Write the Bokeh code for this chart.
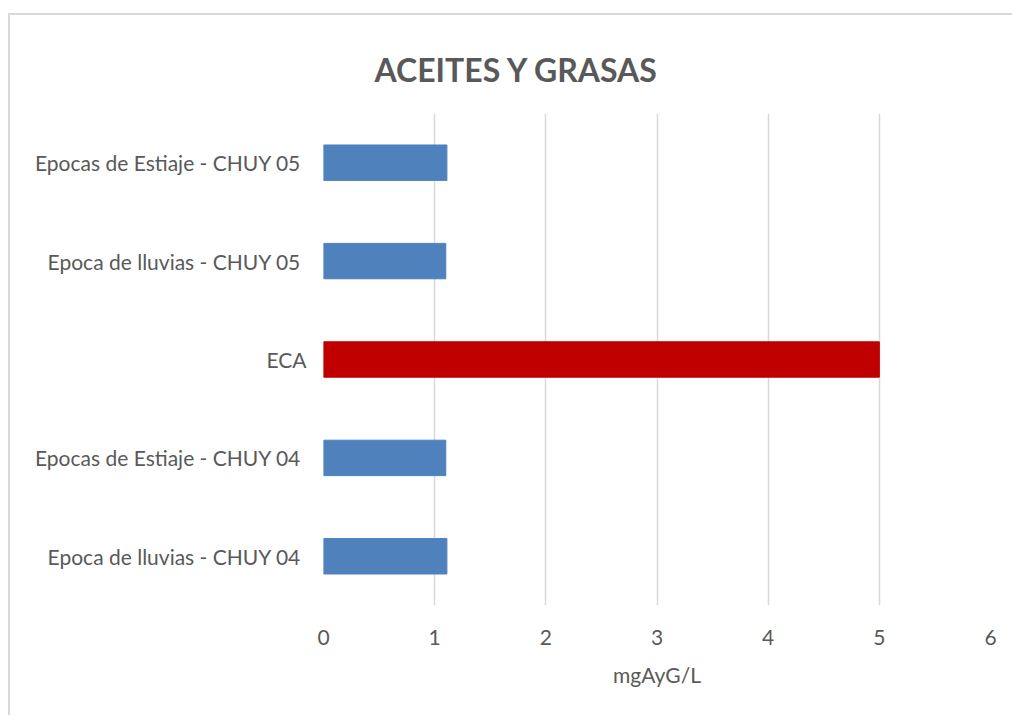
from bokeh.plotting import figure
from bokeh.models import FactorRange, Range1d, FixedTicker, ColumnDataSource
from bokeh.embed import file_html
from bokeh.resources import INLINE

categories = ["Epoca de  lluvias - CHUY 04", "Epocas de Estiaje -  CHUY 04", "ECA",
              "Epoca de  lluvias - CHUY 05", "Epocas de Estiaje -  CHUY 05"]
values = [1.11, 1.10, 5.0, 1.10, 1.11]
colors = ["#4F81BD", "#4F81BD", "#C00000", "#4F81BD", "#4F81BD"]
x_ticks = [0, 1, 2, 3, 4, 5, 6]
title_text = "ACEITES Y GRASAS"
x_label = "mgAyG/L"

src = ColumnDataSource(dict(cat=categories, val=values, color=colors))

p = figure(width=1004, height=702, output_backend="svg", toolbar_location=None,
           y_range=FactorRange(factors=categories), x_range=Range1d(0, 6),
           min_border_left=313, min_border_right=24, min_border_top=98, min_border_bottom=112,
           title=title_text)
p.styles = {"margin-left": "8px", "margin-top": "13px",
            "border-left": "2px solid #D9D9D9", "border-top": "2px solid #D9D9D9"}
p.hbar(y="cat", right="val", left=0, height=0.36, color="color", source=src)

p.title.align = "left"
p.title.offset = 51
p.title.standoff = 50
p.title.text_font = "Lato"
p.title.text_font_style = "bold"
p.title.text_font_size = "32px"
p.title.text_color = "#595959"

p.outline_line_color = None
p.ygrid.grid_line_color = None
p.xgrid.grid_line_color = "#D9D9D9"
p.xgrid.grid_line_width = 1.5

p.xaxis.ticker = FixedTicker(ticks=x_ticks)
for ax in (p.xaxis[0], p.yaxis[0]):
    ax.axis_line_color = None
    ax.major_tick_line_color = None
    ax.minor_tick_line_color = None
    ax.major_label_text_font = "Lato"
    ax.major_label_text_color = "#595959"
    ax.major_label_text_font_size = "21px"
p.xaxis.major_label_standoff = 18
p.yaxis.major_label_standoff = 11
p.xaxis.axis_label = x_label
p.xaxis.axis_label_text_font = "Lato"
p.xaxis.axis_label_text_font_style = "normal"
p.xaxis.axis_label_text_font_size = "21px"
p.xaxis.axis_label_text_color = "#595959"
p.xaxis.axis_label_standoff = 14

open("out.html", "w").write(file_html(p, INLINE))
